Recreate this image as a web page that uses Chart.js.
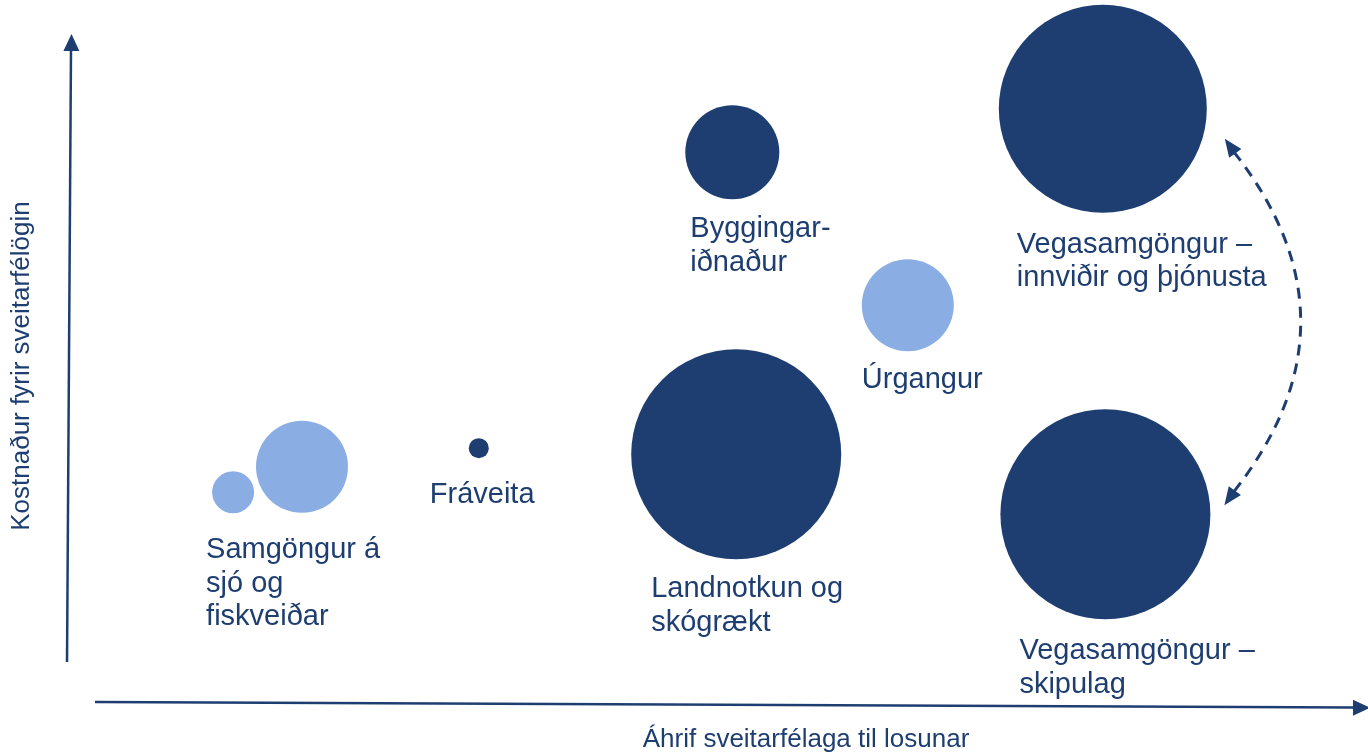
<!DOCTYPE html>
<html>
<head>
<meta charset="utf-8">
<script src="https://cdn.jsdelivr.net/npm/chart.js@4.4.1/dist/chart.umd.min.js"></script>
<style>
  html, body { margin: 0; padding: 0; background: #fff; }
  #wrap { width: 1368px; height: 754px; position: relative; }
</style>
</head>
<body>
<div id="wrap"><canvas id="chart"></canvas></div>
<script>
const NAVY = '#1e3e71';
const LIGHT = '#8aaee4';

// bubbles: x = áhrif, y = kostnaður, r = size (px)
const labels = [
    ['Samgöngur á', 'sjó og', 'fiskveiðar'],
    null,
    ['Fráveita'],
    ['Byggingar-', 'iðnaður'],
    ['Landnotkun og', 'skógrækt'],
    ['Úrgangur'],
    ['Vegasamgöngur –', 'innviðir og þjónusta'],
    ['Vegasamgöngur –', 'skipulag']
];
const xValues = [1.27, 1.80, 3.16, 5.11, 5.14, 6.46, 7.96, 7.98];
const yValues = [3.14, 3.52, 3.80, 8.23, 3.71, 5.94, 8.88, 2.81];
const sizes = [21, 46, 10, 47, 105, 46, 104, 105];
const shades = ['light', 'light', 'dark', 'dark', 'dark', 'light', 'dark', 'dark'];

const xTitle = 'Áhrif sveitarfélaga til losunar';
const yTitle = 'Kostnaður fyrir sveitarfélögin';

// label offsets (left, baseline) from the bubble centre, px
const labelOffsets = [
    [-27, 66], null, [-49, 55], [-42, 85], [-85, 143], [-46, 83], [-86, 144], [-86, 145]
];

const points = xValues.map((x, i) => ({ x: x, y: yValues[i], r: sizes[i] }));

const arrowHead = (ctx, x, y, angle, len, half) => {
    ctx.beginPath();
    ctx.moveTo(x, y);
    ctx.lineTo(x - len * Math.cos(angle) + half * Math.sin(angle), y - len * Math.sin(angle) - half * Math.cos(angle));
    ctx.lineTo(x - len * Math.cos(angle) - half * Math.sin(angle), y - len * Math.sin(angle) + half * Math.cos(angle));
    ctx.closePath();
    ctx.fill();
};

const decorPlugin = {
    id: 'decor',
    afterDatasetsDraw(chart) {
        const { ctx, chartArea: a } = chart;
        const meta = chart.getDatasetMeta(0);
        ctx.save();
        ctx.fillStyle = NAVY;
        ctx.strokeStyle = NAVY;

        // axes as arrows
        ctx.lineWidth = 2.5;
        ctx.beginPath();
        ctx.moveTo(a.left - 1, a.bottom - 40);
        ctx.lineTo(a.left + 3, a.top + 14);
        ctx.stroke();
        arrowHead(ctx, a.left + 3.5, a.top, -Math.PI / 2 + 0.006, 17, 8);

        ctx.beginPath();
        ctx.moveTo(a.left + 27, a.bottom);
        ctx.lineTo(a.right - 14, a.bottom + 5.5);
        ctx.stroke();
        arrowHead(ctx, a.right + 2, a.bottom + 5.7, 0.004, 17, 8);

        // labels
        ctx.font = '29px "Liberation Sans", Arial, sans-serif';
        ctx.textBaseline = 'alphabetic';
        ctx.textAlign = 'left';
        labels.forEach((lines, i) => {
            if (!lines) return;
            const p = meta.data[i];
            const [dx, dy] = labelOffsets[i];
            lines.forEach((t, k) => ctx.fillText(t, p.x + dx, p.y + dy + k * 33.5));
        });

        // dashed double arrow between the two road bubbles
        const top = meta.data[6], bot = meta.data[7];
        const x0 = top.x + 122, y0 = top.y + 30;
        const x1 = bot.x + 119, y1 = bot.y - 9;
        const cx = top.x + 265, cy = (y0 + y1) / 2;
        ctx.lineWidth = 3;
        ctx.setLineDash([11, 8]);
        ctx.beginPath();
        ctx.moveTo(x0 + 9, y0 + 13);
        ctx.quadraticCurveTo(cx, cy, x1 + 9, y1 - 13);
        ctx.stroke();
        ctx.setLineDash([]);
        arrowHead(ctx, x0, y0, Math.atan2(-14, -10), 18, 7.5);
        arrowHead(ctx, x1, y1, Math.atan2(14, -10), 18, 7.5);

        // axis titles
        ctx.font = '26px "Liberation Sans", Arial, sans-serif';
        ctx.textAlign = 'center';
        ctx.textBaseline = 'middle';
        ctx.fillText(xTitle, 806, 740);
        ctx.translate(22, 366);
        ctx.rotate(-Math.PI / 2);
        ctx.fillText(yTitle, 0, 0);
        ctx.restore();
    }
};

new Chart(document.getElementById('chart'), {
    type: 'bubble',
    data: {
        datasets: [{
            data: points,
            backgroundColor: shades.map(s => s === 'light' ? LIGHT : NAVY),
            borderWidth: 0,
            hoverBorderWidth: 0,
            clip: false
        }]
    },
    options: {
        responsive: true,
        maintainAspectRatio: false,
        animation: false,
        events: [],
        layout: { autoPadding: false, padding: { left: 68, right: 0, top: 34, bottom: 52 } },
        plugins: { legend: { display: false }, tooltip: { enabled: false } },
        scales: {
            x: { type: 'linear', min: 0, max: 10, display: false },
            y: { type: 'linear', min: 0, max: 10, display: false }
        }
    },
    plugins: [decorPlugin]
});
</script>
</body>
</html>
